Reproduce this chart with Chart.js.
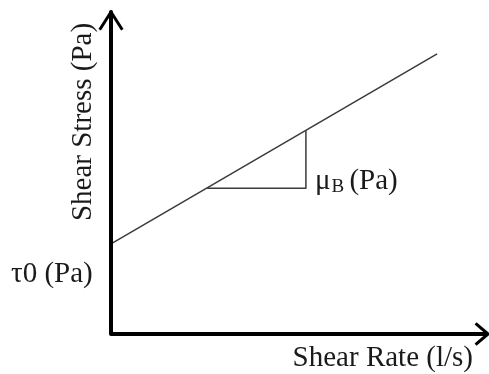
<!DOCTYPE html>
<html lang="en">

<head>
    <meta charset="UTF-8">
    <title>Bingham Plastic</title>
    <script src="https://cdn.jsdelivr.net/npm/chart.js"></script>
    <style>
        body {
            margin: 0;
            padding: 0;
            background: #ffffff;
        }

        #chart-container {
            position: relative;
            width: 489px;
            height: 374px;
        }
    </style>
</head>

<body>
    <div id="chart-container">
        <canvas id="chart"></canvas>
    </div>

    <script>
        // Bingham line: stress = tau0 + muB * rate
        const rateLine = [0, 8.65];
        const stressLine = [2.8, 8.7];

        // slope triangle under the line
        const triRate = [2.55, 5.17, 5.17];
        const triStress = [4.53, 4.53, 6.33];

        // axes and arrow heads
        const axisRate = [0, 0, 10];
        const axisStress = [10, 0, 0];
        const upArrowRate = [-0.3, 0, 0.3];
        const upArrowStress = [9.45, 10, 9.45];
        const rightArrowRate = [9.67, 10, 9.67];
        const rightArrowStress = [0.33, 0, -0.33];

        // text
        const xTitle = 'Shear Rate (l/s)';
        const yTitle = 'Shear Stress (Pa)';
        const tauLabel = 'τ0 (Pa)';
        const muLabel = ['μ', 'B', ' (Pa)'];

        function pts(xs, ys) {
            return xs.map(function (x, i) { return { x: x, y: ys[i] }; });
        }

        function lineSet(xs, ys, color, width) {
            return {
                data: pts(xs, ys),
                showLine: true,
                borderColor: color,
                backgroundColor: color,
                borderWidth: width,
                pointRadius: 0,
                fill: false,
                clip: false,
                borderJoinStyle: 'round',
                borderCapStyle: 'butt'
            };
        }

        var serif = '"Liberation Serif", "DejaVu Serif", serif';

        // draws the hand-placed labels
        var labelPlugin = {
            id: 'labels',
            afterDraw: function (chart) {
                var c = chart.ctx;
                var xs = chart.scales.x;
                var ys = chart.scales.y;
                c.save();
                c.fillStyle = '#1a1a1a';
                c.textBaseline = 'middle';
                c.font = '29px ' + serif;

                c.textAlign = 'right';
                c.fillText(xTitle, 473, 358);

                c.textAlign = 'left';
                c.fillText(tauLabel, 11, 274);

                // mu_B next to the vertical leg of the triangle
                var mx = xs.getPixelForValue(triRate[1]) + 9;
                var my = ys.getPixelForValue(triStress[0]) - 7;
                c.fillText(muLabel[0], mx, my);
                mx += c.measureText(muLabel[0]).width + 1;
                c.font = '19px ' + serif;
                c.fillText(muLabel[1], mx, my + 6);
                mx += c.measureText(muLabel[1]).width - 2;
                c.font = '29px ' + serif;
                c.fillText(muLabel[2], mx, my);

                c.translate(83, 122);
                c.rotate(-Math.PI / 2);
                c.textAlign = 'center';
                c.fillText(yTitle, 0, 0);
                c.restore();
            }
        };

        var ctx = document.getElementById('chart').getContext('2d');
        var chart = new Chart(ctx, {
            type: 'scatter',
            data: {
                datasets: [
                    lineSet(axisRate, axisStress, '#000000', 4),
                    lineSet(upArrowRate, upArrowStress, '#000000', 3),
                    lineSet(rightArrowRate, rightArrowStress, '#000000', 3),
                    lineSet(rateLine, stressLine, '#3a3a3a', 1.5),
                    lineSet(triRate, triStress, '#3a3a3a', 1.5)
                ]
            },
            options: {
                responsive: true,
                maintainAspectRatio: false,
                animation: false,
                layout: {
                    padding: { left: 111, right: 1, top: 12, bottom: 40 }
                },
                plugins: {
                    legend: { display: false },
                    tooltip: { enabled: false }
                },
                scales: {
                    x: { type: 'linear', min: 0, max: 10, display: false },
                    y: { type: 'linear', min: 0, max: 10, display: false }
                }
            },
            plugins: [labelPlugin]
        });
    </script>
</body>

</html>
